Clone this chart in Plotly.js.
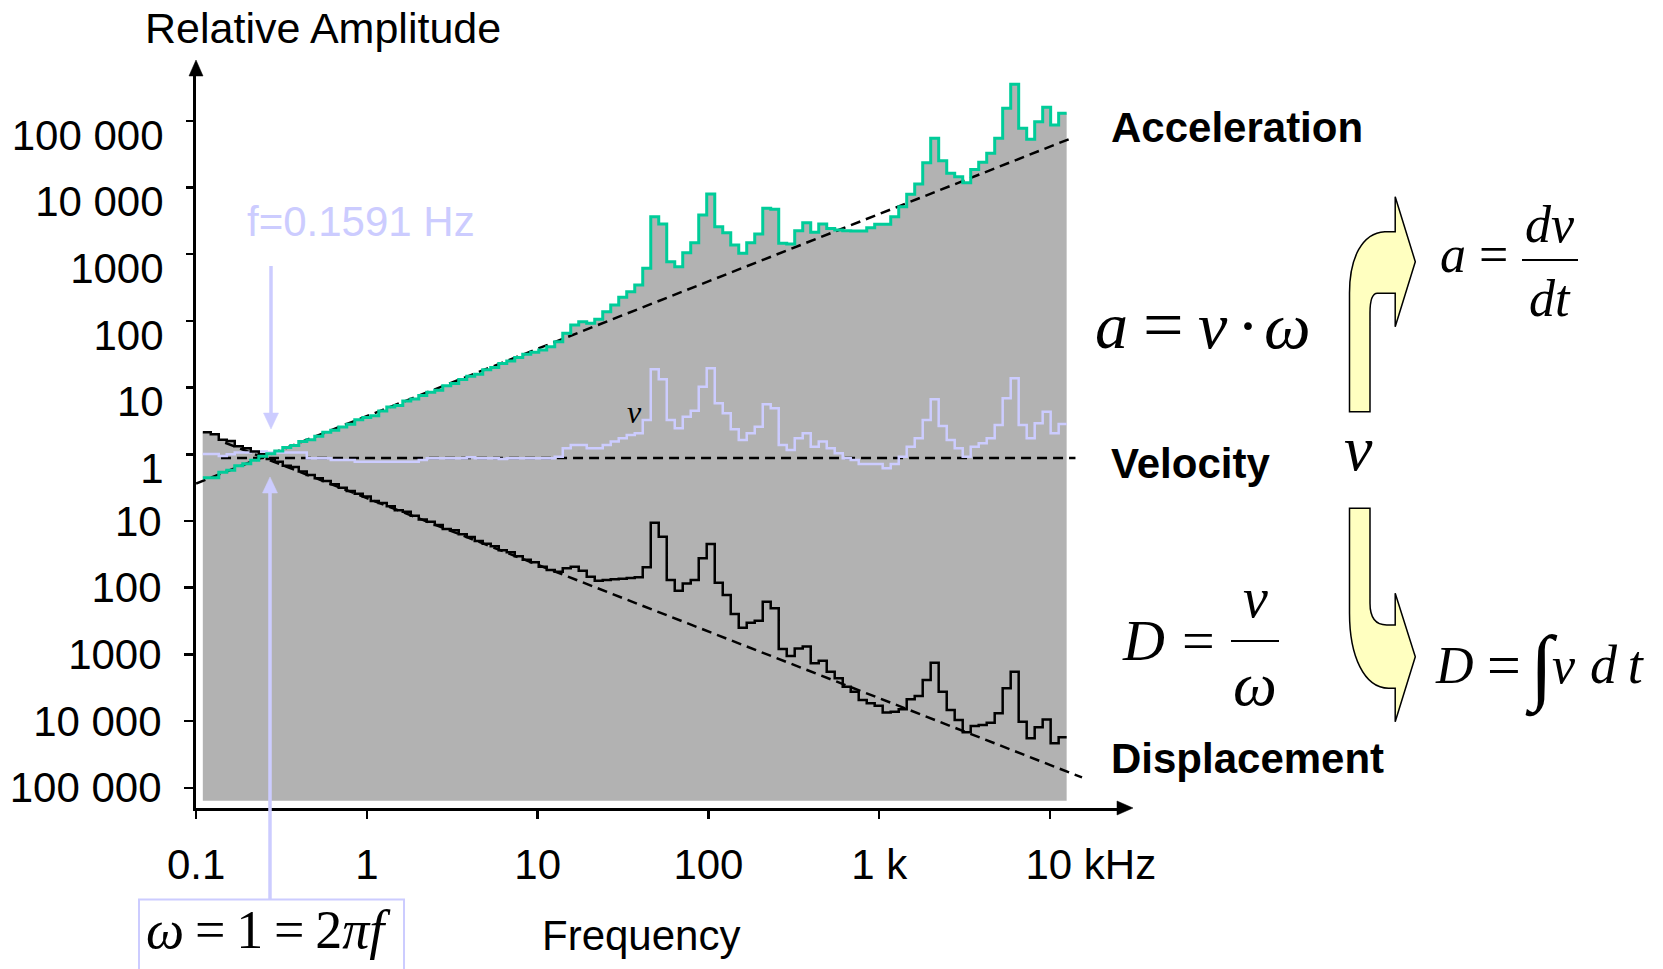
<!DOCTYPE html>
<html>
<head>
<meta charset="utf-8">
<script src="https://cdn.plot.ly/plotly-3.0.1.min.js"></script>
<style>html,body{margin:0;padding:0;background:#fff;}#chart{width:1663px;height:969px;}</style>
</head>
<body>
<div id="chart"></div>
<script>
// ---- data ----
const bandEdgesHz = [0.1095, 0.1219, 0.1358, 0.1512, 0.1684, 0.1876, 0.2090, 0.2328, 0.2594, 0.2888,
  0.3218, 0.3584, 0.3992, 0.4447, 0.4953, 0.5518, 0.6145, 0.6845, 0.7625, 0.8493,
  0.9462, 1.054, 1.174, 1.308, 1.457, 1.623, 1.807, 2.013, 2.243, 2.498,
  2.782, 3.099, 3.451, 3.845, 4.282, 4.770, 5.313, 5.918, 6.593, 7.343,
  8.179, 9.112, 10.15, 11.30, 12.59, 14.03, 15.62, 17.40, 19.38, 21.59,
  24.05, 26.79, 29.84, 33.24, 37.03, 41.24, 45.95, 51.17, 57.00, 63.50,
  70.72, 78.77, 87.75, 97.72, 108.9, 121.3, 135.1, 150.5, 167.6, 186.7,
  208.0, 231.6, 258.0, 287.4, 320.1, 356.6, 397.2, 442.5, 492.8, 548.9,
  611.5, 681.1, 758.6, 845.2, 941.0, 1048, 1168, 1301, 1449, 1614,
  1798, 2002, 2230, 2485, 2767, 3083, 3434, 3825, 4261, 4746,
  5284, 5888, 6557, 7305, 8137, 9063, 10090, 11240, 12520];

const acceleration = [0.447, 0.447, 0.537, 0.575, 0.676, 0.724, 0.813, 0.933, 1.02, 1.12,
  1.26, 1.35, 1.55, 1.66, 1.86, 2.14, 2.29, 2.57, 2.82, 3.31,
  3.55, 3.80, 4.47, 5.13, 5.37, 6.31, 6.76, 7.59, 8.51, 9.12,
  10.7, 11.5, 13.2, 14.8, 15.8, 18.6, 20.0, 22.9, 25.1, 28.2,
  31.6, 33.9, 36.6, 41.0, 48.8, 65.2, 86.9, 97.3, 92.0, 106,
  137, 173, 226, 274, 345, 614, 3650, 2840, 773, 650,
  1050, 1490, 3870, 8000, 2590, 2100, 1370, 1030, 1490, 2010,
  4880, 4710, 1460, 1420, 2250, 2970, 2130, 2840, 2440, 2310,
  2250, 2230, 2230, 2500, 2810, 2810, 3650, 5160, 7910, 11300,
  23500, 54700, 25200, 16300, 14500, 11800, 18700, 23900, 32600, 54700,
  154000, 353000, 77300, 52800, 97200, 160000, 86700, 130000];

const velocity = [1.01, 1.01, 0.944, 1.00, 1.06, 1.06, 1.10, 1.10, 1.06, 1.06,
  1.06, 1.06, 1.06, 0.871, 0.871, 0.871, 0.822, 0.822, 0.822, 0.776,
  0.776, 0.776, 0.776, 0.776, 0.776, 0.776, 0.776, 0.822, 0.871, 0.871,
  0.871, 0.871, 0.871, 0.902, 0.871, 0.871, 0.871, 0.851, 0.871, 0.871,
  0.871, 0.871, 0.871, 0.871, 0.920, 1.23, 1.38, 1.38, 1.23, 1.23,
  1.38, 1.55, 1.74, 1.95, 2.07, 3.27, 18.8, 13.3, 3.27, 2.45,
  3.66, 4.51, 10.3, 19.5, 5.82, 4.12, 2.37, 1.64, 2.07, 2.59,
  5.62, 4.90, 1.38, 1.16, 1.74, 2.07, 1.30, 1.55, 1.23, 1.04,
  0.871, 0.822, 0.716, 0.716, 0.716, 0.617, 0.716, 0.920, 1.30, 1.74,
  3.27, 6.68, 2.65, 1.64, 1.23, 0.920, 1.30, 1.46, 1.74, 2.75,
  6.92, 13.8, 2.75, 1.74, 2.92, 4.36, 2.07, 2.84];

const displacement = [2.14, 2.00, 1.66, 1.58, 1.32, 1.23, 1.10, 1.00, 0.851, 0.776,
  0.676, 0.646, 0.550, 0.490, 0.437, 0.398, 0.355, 0.316, 0.282, 0.257,
  0.234, 0.200, 0.186, 0.166, 0.145, 0.138, 0.120, 0.105, 0.0977, 0.0871,
  0.0759, 0.0724, 0.0631, 0.0575, 0.0501, 0.0457, 0.0417, 0.0363, 0.0339, 0.0295,
  0.0263, 0.0240, 0.0207, 0.0184, 0.0174, 0.0195, 0.0207, 0.0180, 0.0146, 0.0127,
  0.0130, 0.0134, 0.0136, 0.0140, 0.0143, 0.0202, 0.0944, 0.0582, 0.0130, 0.00902,
  0.0116, 0.0130, 0.0276, 0.0452, 0.0119, 0.00776, 0.00403, 0.00251, 0.00299, 0.00320,
  0.00617, 0.00491, 0.00120, 0.000946, 0.00123, 0.00131, 0.000736, 0.000805, 0.000551, 0.000439,
  0.000328, 0.000276, 0.000207, 0.000185, 0.000170, 0.000134, 0.000138, 0.000150, 0.000212, 0.000238,
  0.000413, 0.000752, 0.000276, 0.000147, 0.000104, 0.0000679, 0.0000843, 0.0000875, 0.0000946, 0.000131,
  0.000310, 0.000551, 0.0000979, 0.0000552, 0.0000807, 0.000106, 0.0000465, 0.0000571];

// dashed reference lines (end points)
const accelTrendHz = [0.1, 13400];
const accelTrendAmp = [0.365, 55100];
const velTrendHz = [0.140, 14100];
const velTrendAmp = [0.877, 0.877];
const dispTrendHz = [0.148, 15400];
const dispTrendAmp = [1.49, 0.0000143];
const areaFloor = 0.00000637;

const xTickVals = [0.1, 1, 10, 100, 1000, 10000];
const xTickText = ['0.1', '1', '10', '100', '1 k', '\u00a0\u00a0\u00a0\u00a0\u00a0\u00a0\u00a010 kHz'];
const yUpVals = [1, 10, 100, 1000, 10000, 100000];
const yUpText = ['1', '10', '100', '1000', '10 000', '100 000'];
const yLowVals = [0.00001, 0.0001, 0.001, 0.01, 0.1];
const yLowText = ['100 000', '10 000', '1000', '100', '10'];

// ---- helpers ----
const stepY = a => a.concat([a[a.length - 1]]);
const PL = 196, PR = 1120, PT = 75, PB = 808;
const px = x => (x - PL) / (PR - PL);
const py = y => (PB - y) / (PB - PT);
const P = s => s.replace(/(-?[\d.]+),(-?[\d.]+)/g, (m, a, b) => px(+a).toFixed(5) + ',' + py(+b).toFixed(5));

const SANS = 'Arial, "Liberation Sans", sans-serif';
const SERIF = '"Times New Roman", "Liberation Serif", serif';
const LAV = '#ccccff';
const GRAY = '#b2b2b2';

const traces = [
  {x: [bandEdgesHz[0], bandEdgesHz[bandEdgesHz.length - 1]], y: [areaFloor, areaFloor], mode: 'lines',
   line: {width: 0}, yaxis: 'y', hoverinfo: 'skip', showlegend: false},
  {x: bandEdgesHz, y: stepY(displacement), mode: 'lines', line: {width: 0, shape: 'hv'},
   fill: 'tonexty', fillcolor: GRAY, yaxis: 'y', hoverinfo: 'skip', showlegend: false},
  {x: bandEdgesHz, y: stepY(acceleration), mode: 'lines', line: {width: 0, shape: 'hv'},
   fill: 'tonexty', fillcolor: GRAY, yaxis: 'y', hoverinfo: 'skip', showlegend: false},
  {x: accelTrendHz, y: accelTrendAmp, mode: 'lines', line: {color: 'black', width: 2.5, dash: '10px,6px'}, yaxis: 'y2', showlegend: false},
  {x: velTrendHz, y: velTrendAmp, mode: 'lines', line: {color: 'black', width: 2.5, dash: '10px,6px'}, yaxis: 'y2', showlegend: false},
  {x: dispTrendHz, y: dispTrendAmp, mode: 'lines', line: {color: 'black', width: 2.5, dash: '10px,6px'}, yaxis: 'y2', showlegend: false},
  {x: bandEdgesHz, y: stepY(velocity), mode: 'lines', line: {color: LAV, width: 2.5, shape: 'hv'}, yaxis: 'y2', showlegend: false},
  {x: bandEdgesHz, y: stepY(displacement), mode: 'lines', line: {color: 'black', width: 2.5, shape: 'hv'}, yaxis: 'y2', showlegend: false},
  {x: bandEdgesHz, y: stepY(acceleration), mode: 'lines', line: {color: '#00cc99', width: 3, shape: 'hv'}, yaxis: 'y2', showlegend: false}
];

const yRange = [-5.303, 5.687];
const tickFont = {family: SANS, size: 42, color: 'black'};

function ann(text, x, y, o) {
  return Object.assign({text: text, x: px(x), y: py(y), xref: 'paper', yref: 'paper', showarrow: false,
    xanchor: 'center', yanchor: 'middle', font: {family: SANS, size: 42, color: 'black'}}, o || {});
}
const serif = (size, color) => ({family: SERIF, size: size, color: color || 'black'});

const annotations = [
  ann('Relative Amplitude', 323, 28, {font: {family: SANS, size: 43, color: 'black'}}),
  ann('f=0.1591 Hz', 361, 222, {font: {family: SANS, size: 42, color: LAV}}),
  ann('Frequency', 641, 935),
  ann('<b>Acceleration</b>', 1109, 127, {xanchor: 'left'}),
  ann('<b>Velocity</b>', 1109, 463, {xanchor: 'left'}),
  ann('<b>Displacement</b>', 1109, 758, {xanchor: 'left'}),
  // a = v . omega
  ann('<i>a</i>', 1111, 325, {font: serif(66)}),
  ann('=', 1163, 325, {font: serif(72)}),
  ann('<i>v</i>', 1213, 325, {font: serif(66)}),
  ann('\u00b7', 1248, 325, {font: serif(66)}),
  ann('<i>ω</i>', 1287, 325, {font: serif(66)}),
  ann('<i>v</i>', 1358, 448, {font: serif(64)}),
  ann('<i>v</i>', 634, 412, {font: serif(32)}),
  // a = dv/dt
  ann('<i>a</i> =', 1438, 254, {xanchor: 'left', font: serif(52)}),
  ann('<i>dv</i>', 1550, 224, {font: serif(52)}),
  ann('<i>dt</i>', 1550, 298, {font: serif(52)}),
  // D = v / omega
  ann('<i>D</i>', 1143, 640, {font: serif(58)}),
  ann('=', 1198, 640, {font: serif(58)}),
  ann('<i>v</i>', 1255, 598, {font: serif(56)}),
  ann('<i>ω</i>', 1255, 684, {font: serif(62)}),
  // D = integral v dt
  ann('<i>D</i>', 1454, 665, {font: serif(52)}),
  ann('=', 1504, 665, {font: serif(60)}),
  ann('\u222b', 1541, 668, {font: serif(84)}),
  ann('<i>v</i>', 1564, 665, {font: serif(52)}),
  ann('<i>d</i>\u2009<i>t</i>', 1617, 665, {font: serif(54)}),
  // omega = 1 = 2 pi f
  ann('<i>ω</i>\u2009=\u20091\u2009=\u20092<i>πf</i>', 268, 930, {font: serif(54)})
];

const lineShape = (x0, y0, x1, y1, color, w) => ({type: 'line', xref: 'paper', yref: 'paper',
  x0: px(x0), y0: py(y0), x1: px(x1), y1: py(y1), line: {color: color, width: w}, layer: 'above'});
const pathShape = (d, fill, lc, lw) => ({type: 'path', xref: 'paper', yref: 'paper', path: P(d),
  fillcolor: fill, line: {color: lc, width: lw}, layer: 'above'});

const shapes = [
  // axis arrowheads
  pathShape('M 189,76 L 203,76 L 196,60 Z', 'black', 'black', 0.5),
  pathShape('M 1117,801 L 1117,815 L 1133,808 Z', 'black', 'black', 0.5),
  // lavender markers for f = 0.1591 Hz
  lineShape(271, 266, 271, 415, LAV, 3.5),
  pathShape('M 263.5,413 L 278.5,413 L 271,429 Z', LAV, LAV, 0.5),
  lineShape(270, 899.5, 270, 491, LAV, 3.5),
  pathShape('M 262.5,493 L 277.5,493 L 270,477 Z', LAV, LAV, 0.5),
  {type: 'rect', xref: 'paper', yref: 'paper', x0: px(139), x1: px(404), y0: py(899.5), y1: py(990),
   line: {color: LAV, width: 2}, fillcolor: 'rgba(0,0,0,0)', layer: 'above'},
  // fraction bars
  lineShape(1522, 260, 1578, 260, 'black', 2),
  lineShape(1231, 641, 1279, 641, 'black', 2),
  // yellow bent arrows
  pathShape('M 1349.5,411.7 L 1349.5,293 C 1349.5,258 1362,233 1384.8,231.7 L 1395.2,231.7 L 1395.2,196.7 L 1415.3,261.7 L 1395.2,326.7 L 1395.2,293.3 L 1377.4,293.3 C 1372,293.3 1370,300 1370,313 L 1370,411.7 Z',
    '#ffffc0', 'black', 1.5),
  pathShape('M 1349.5,508.3 L 1370,508.3 L 1370,603.3 C 1370,617 1375,625 1386.7,625 L 1395.2,625 L 1395.2,593.3 L 1415.3,656.7 L 1395.2,721.7 L 1395.2,688.3 L 1388.6,688.3 C 1364,688 1349.5,656 1349.5,613 Z',
    '#ffffc0', 'black', 1.5)
];

const layout = {
  width: 1663, height: 969,
  margin: {l: PL, r: 1663 - PR, t: PT, b: 969 - PB, pad: 0},
  paper_bgcolor: 'white', plot_bgcolor: 'white',
  showlegend: false,
  font: {family: SANS, color: 'black'},
  xaxis: {type: 'log', range: [-1.0005, 4.41], tickmode: 'array', tickvals: xTickVals, ticktext: xTickText,
    ticks: 'outside', ticklen: 8, tickwidth: 2.5, tickcolor: 'black', showline: true, linewidth: 3, linecolor: 'black',
    showgrid: false, zeroline: false, tickfont: tickFont, ticklabelstandoff: 10},
  yaxis: {type: 'log', range: yRange, tickmode: 'array', tickvals: yLowVals, ticktext: yLowText,
    ticks: 'outside', ticklen: 9, tickwidth: 2.5, tickcolor: 'black', showline: true, linewidth: 3, linecolor: 'black',
    showgrid: false, zeroline: false, tickfont: tickFont, ticklabelstandoff: 14},
  yaxis2: {type: 'log', range: yRange, overlaying: 'y', anchor: 'x', side: 'left', tickmode: 'array',
    tickvals: yUpVals, ticktext: yUpText, ticks: 'outside', ticklen: 9, tickwidth: 2.5, tickcolor: 'black',
    showline: false, showgrid: false, zeroline: false, tickfont: tickFont, ticklabelstandoff: 14, ticklabelshift: 14},
  annotations: annotations,
  shapes: shapes
};

Plotly.newPlot('chart', traces, layout, {staticPlot: true, displayModeBar: false});
</script>
</body>
</html>
